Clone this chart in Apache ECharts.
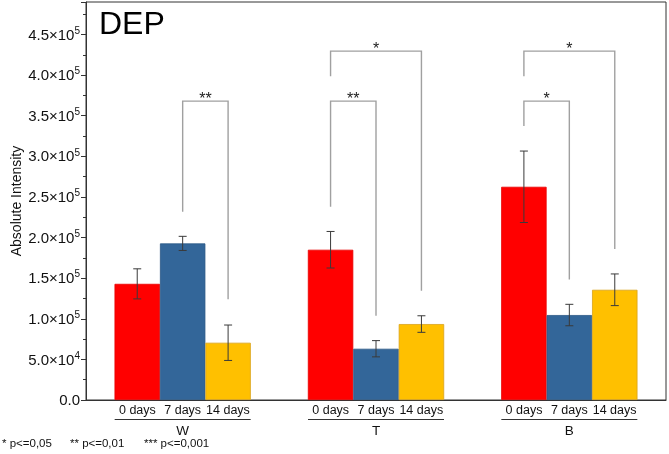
<!DOCTYPE html>
<html>
<head>
<meta charset="utf-8">
<script src="https://cdn.jsdelivr.net/npm/echarts@6/dist/echarts.min.js"></script>
<style>
html,body{margin:0;padding:0;background:#fff;}
#chart{width:669px;height:454px;}
</style>
</head>
<body>
<div id="chart"></div>
<script>
// ---- data ----
const groups = ['W', 'T', 'B'];
const dayLabels = ['0 days', '7 days', '14 days'];
const values0 = [143000, 185000, 262500];
const values7 = [192800, 63100, 104600];
const values14 = [70500, 93500, 135700];
const err0 = [18500, 22500, 44000];
const err7 = [8700, 10000, 13200];
const err14 = [21800, 10200, 19500];
const yTicks = [0, 50000, 100000, 150000, 200000, 250000, 300000, 350000, 400000, 450000];
// significance brackets: group, from bar, to bar, top value, left end, right end, label
const brGroup = [0, 1, 1, 2, 2];
const brFrom = [1, 0, 0, 0, 0];
const brTo = [2, 1, 2, 1, 2];
const brTop = [368000, 368000, 429500, 368000, 429500];
const brLeftEnd = [231700, 238000, 398700, 337200, 398700];
const brRightEnd = [123900, 103700, 134500, 148500, 185800];
const brLabel = ['**', '**', '*', '*', '*'];
const footnote = ['* p<=0,05', '** p<=0,01', '*** p<=0,001'];

const FONT = 'Liberation Sans, Arial, sans-serif';
const colors = ['#ff0000', '#336699', '#ffc000'];
const borders = ['#e80000', '#2b5886', '#d9a21b'];
const CAT_GAP = 0.295;
const allValues = [values0, values7, values14];
const allErr = [err0, err7, err14];

function barCenter(api, g, b) {
  const cx = api.coord([g, 0])[0];
  const band = api.size([1, 0])[0];
  const bw = band * (1 - CAT_GAP) / 3;
  return cx + (b - 1) * bw;
}

const series = [];
for (let i = 0; i < 3; i++) {
  series.push({
    type: 'bar', name: dayLabels[i], data: allValues[i],
    barGap: 0, barCategoryGap: (CAT_GAP * 100) + '%',
    itemStyle: { color: colors[i], borderColor: borders[i], borderWidth: 0.8 },
    z: 2
  });
}
for (let i = 0; i < 3; i++) {
  series.push({
    type: 'custom', z: 5, silent: true,
    data: groups.map((g, k) => [k, allValues[i][k], allErr[i][k]]),
    renderItem: (function (bi) {
      return function (params, api) {
        const g = api.value(0), v = api.value(1), e = api.value(2);
        const x = barCenter(api, g, bi);
        const yh = api.coord([g, v + e])[1];
        const yl = api.coord([g, v - e])[1];
        const c = 4;
        const st = { stroke: '#3a3a3a', lineWidth: 1 };
        return { type: 'group', children: [
          { type: 'line', shape: { x1: x, y1: yh, x2: x, y2: yl }, style: st },
          { type: 'line', shape: { x1: x - c, y1: yh, x2: x + c, y2: yh }, style: st },
          { type: 'line', shape: { x1: x - c, y1: yl, x2: x + c, y2: yl }, style: st }
        ]};
      };
    })(i)
  });
}
series.push({
  type: 'custom', z: 6, silent: true,
  data: brGroup.map((g, k) => [g, brFrom[k], brTo[k], brTop[k], brLeftEnd[k], brRightEnd[k], k]),
  renderItem: function (params, api) {
    const g = api.value(0);
    const x1 = barCenter(api, g, api.value(1));
    const x2 = barCenter(api, g, api.value(2));
    const yt = api.coord([g, api.value(3)])[1];
    const yl = api.coord([g, api.value(4)])[1];
    const yr = api.coord([g, api.value(5)])[1];
    const k = api.value(6);
    return { type: 'group', children: [
      { type: 'polyline', shape: { points: [[x1, yl], [x1, yt], [x2, yt], [x2, yr]] },
        style: { stroke: '#a0a0a0', lineWidth: 1.4, fill: null } },
      { type: 'text', x: (x1 + x2) / 2, y: yt + 6,
        style: { text: brLabel[k], font: '16px ' + FONT, fill: '#222', align: 'center', verticalAlign: 'bottom' } }
    ]};
  }
});

function yFmt(v) {
  if (v === 0) return '{n|0.0}';
  const e = Math.floor(Math.log10(v) + 1e-9);
  const m = (v / Math.pow(10, e)).toFixed(1);
  return '{n|' + m + '×10}{s|' + e + '}';
}

const chart = echarts.init(document.getElementById('chart'), null, { renderer: 'canvas' });
chart.setOption({
  animation: false,
  backgroundColor: '#fff',
  grid: { left: 86, right: 3, top: 2, bottom: 54, containLabel: false, outerBoundsMode: 'none',
    show: true, borderColor: '#333', borderWidth: 1, backgroundColor: 'transparent' },
  graphic: [
    { type: 'text', left: 99, top: 9, style: { text: 'DEP', font: '32px ' + FONT, fill: '#000' } },
    { type: 'text', left: 2, top: 438, style: {
      text: '{a|' + footnote[0] + '}{b|' + footnote[1] + '}{c|' + footnote[2] + '}',
      rich: {
        a: { width: 68, font: '11.5px ' + FONT, fill: '#111' },
        b: { width: 74, font: '11.5px ' + FONT, fill: '#111' },
        c: { font: '11.5px ' + FONT, fill: '#111' }
      }
    } }
  ],
  xAxis: {
    type: 'category', data: groups,
    axisLine: { lineStyle: { color: '#333', width: 1 } },
    axisTick: { show: false },
    axisLabel: {
      interval: 0, margin: 3,
      formatter: function (g) {
        return '{d|' + dayLabels[0] + '}{d|' + dayLabels[1] + '}{d|' + dayLabels[2] + '}\n{u| }\n{g|' + g + '}';
      },
      rich: {
        d: { width: 45.3, align: 'center', fontSize: 12.5, fontFamily: FONT, color: '#111', lineHeight: 15 },
        u: { width: 136, height: 1, lineHeight: 3, backgroundColor: '#333', fontSize: 1 },
        g: { fontSize: 13.5, fontFamily: FONT, color: '#111', lineHeight: 20, align: 'center' }
      }
    }
  },
  yAxis: {
    type: 'value', min: 0, max: 490000, interval: 50000,
    name: 'Absolute Intensity', nameLocation: 'middle', nameGap: 62, nameMoveOverlap: false,
    nameTextStyle: { fontSize: 14, fontFamily: FONT, color: '#111' },
    axisLine: { show: true, lineStyle: { color: '#333', width: 1 } },
    axisTick: { show: true, length: 5, lineStyle: { color: '#333' } },
    minorTick: { show: true, splitNumber: 2, length: 3, lineStyle: { color: '#333' } },
    splitLine: { show: false },
    axisLabel: {
      showMaxLabel: false, margin: 6,
      formatter: yFmt,
      rich: {
        n: { fontSize: 15, fontFamily: FONT, color: '#111', lineHeight: 17, verticalAlign: 'bottom' },
        s: { fontSize: 10, fontFamily: FONT, color: '#111', lineHeight: 17, verticalAlign: 'top' }
      }
    }
  },
  series: series
});
</script>
</body>
</html>
